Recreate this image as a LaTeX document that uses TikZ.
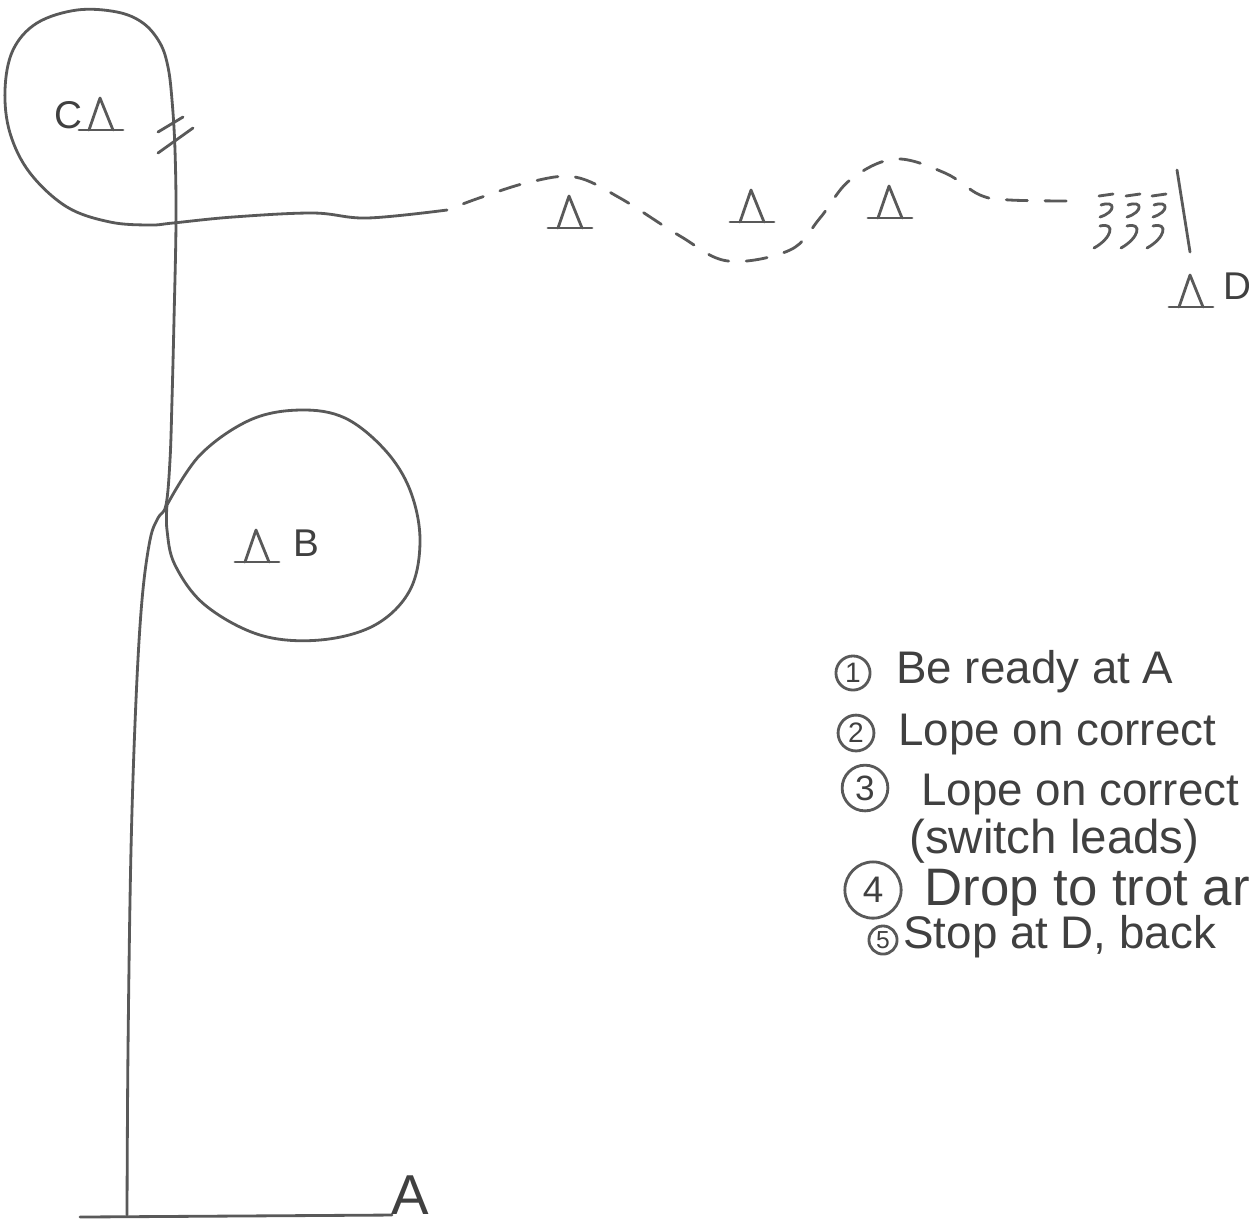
\documentclass[tikz,border=0pt]{standalone}
\usepackage{fontspec}
\setmainfont{Liberation Sans}

\begin{document}
\begin{tikzpicture}[x=0.01cm, y=-0.01cm, black!65, line width=0.8pt, line cap=round, line join=round,
  cone/.pic={\draw (-12,0) -- (-1,-32) -- (12,0); \draw (-22,0) -- (22,0);},
  num/.style={draw, circle, inner sep=0pt, text=black!75},
  item/.style={anchor=base west, inner sep=0pt, text=black!75, font=\fontsize{13}{15}\selectfont},
  letter/.style={inner sep=0pt, text=black!75, font=\fontsize{11}{13}\selectfont},
  route/.style={draw, smooth, tension=0.6},
  snake/.style={draw, smooth, tension=0.6, dash pattern=on 6pt off 5pt, dash phase=6pt}]
\useasboundingbox (0,0) rectangle (1249,1226);
\draw (80,1217) -- (392,1215);
\node[font=\fontsize{16}{18}\selectfont, text=black!75] (lblA) at (410,1195) {A};
\draw[route] plot coordinates {(127,1215) (128,1050) (131,850) (136,700) (142,600) (150,540) (158,518) (166,505) (170,460) (172,400) (174,320) (176,222) (175,150) (172,100) (168,67) (160,43) (143,23) (117,12) (77,10) (37,23) (13,50) (5,90) (10,133) (30,173) (67,207) (110,222) (150,225) (173,223) (233,217) (313,213) (367,218) (447,210)};
\draw[route] plot coordinates {(167,505) (200,455) (250,420) (300,410) (345,418) (385,450) (410,490) (420,540) (410,590) (375,625) (320,640) (260,635) (205,605) (175,565) (167,530) (167,505)};
\draw[snake] plot coordinates {(447,210) (482,197) (530,182) (575,177) (620,198) (680,236) (728,261) (790,250) (820,218) (850,180) (895,159) (945,173) (980,195) (1010,200) (1075,201)};
\draw (158,132) -- (183,117);
\draw (158,153) -- (193,128);
\pic at (101,130) {cone};
\node[letter] (lblC) at (68,115) {C};
\pic at (570,228) {cone};
\pic at (752,222) {cone};
\pic at (890,218) {cone};
\pic at (257,562) {cone};
\node[letter] (lblB) at (306,543) {B};
\pic at (1191,307) {cone};
\node[letter] (lblD) at (1237,286) {D};
\draw (1177,170) -- (1190,252);
\foreach \x in {1100,1127,1153} {
  \draw (\x-1,196) -- (\x+13,194);
  \draw (\x+1,205) .. controls (\x+16,200) and (\x+16,212) .. (\x,217);
  \draw (\x,226) .. controls (\x+16,222) and (\x+12,238) .. (\x-6,248);
}
\node[num, minimum size=9.7pt, font=\fontsize{8}{9}\selectfont] (n1) at (853,673) {1};
\node[item] (t1) at (895,683) {Be ready at A};
\node[num, minimum size=10.2pt, font=\fontsize{8}{9}\selectfont] (n2) at (856,733) {2};
\node[item] (t2) at (897,745) {Lope on correct};
\node[num, minimum size=13pt, font=\fontsize{10}{11}\selectfont] (n3) at (865,788) {3};
\node[item] (t3) at (920,805) {Lope on correct};
\node[item, font=\fontsize{13.5}{16}\selectfont] (t4) at (908,853) {(switch leads)};
\node[num, minimum size=16pt, font=\fontsize{10.5}{12}\selectfont] (n4) at (873,890) {4};
\node[item, font=\fontsize{15}{17}\selectfont] (t5) at (923,905) {Drop to trot ar};
\node[num, minimum size=8pt, font=\fontsize{7}{8}\selectfont] (n5) at (883,940) {5};
\node[item] (t6) at (902,948) {Stop at D, back};
\end{tikzpicture}
\end{document}
